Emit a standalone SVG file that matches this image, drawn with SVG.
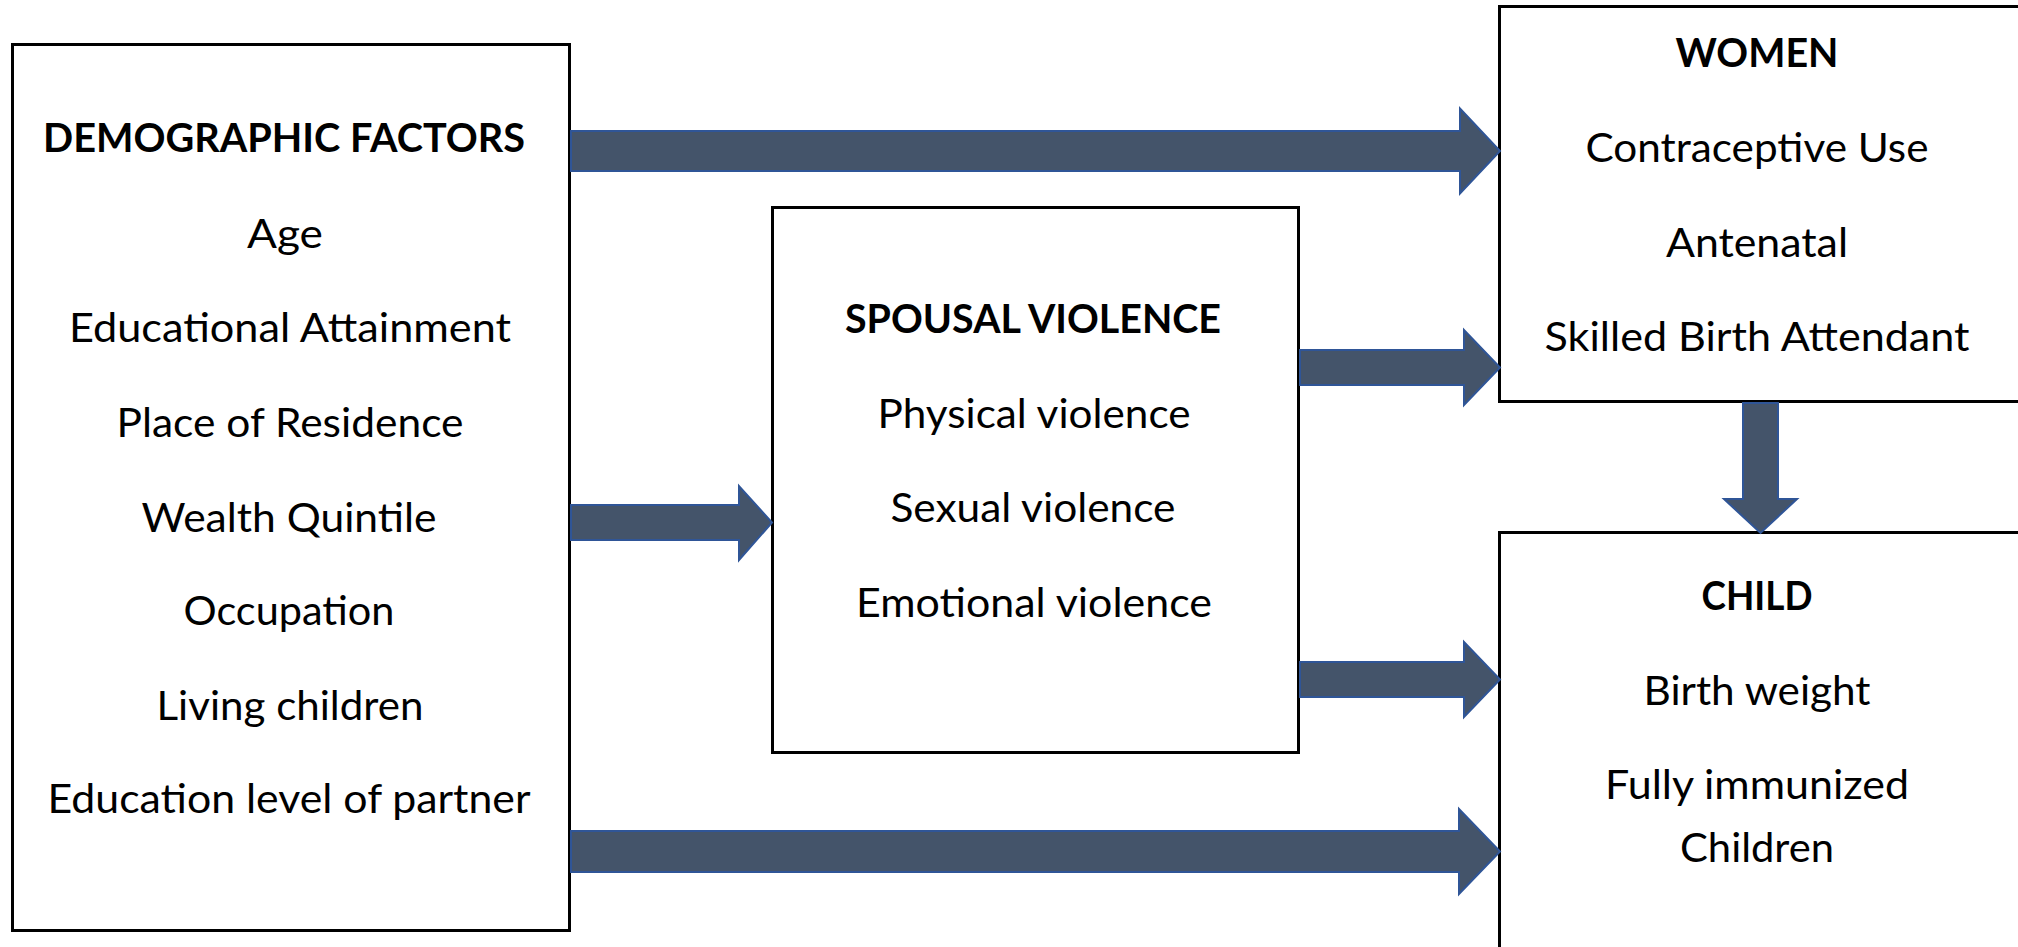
<svg xmlns="http://www.w3.org/2000/svg" width="2018" height="947" viewBox="0 0 2018 947">
<style>
.box{fill:#fff;stroke:#000;stroke-width:3}
.t{font-family:Lato,"Open Sans","Liberation Sans",sans-serif;font-size:41px;fill:#000;text-anchor:middle}
.b{font-weight:700}
.arr{fill:#44546A;stroke:#2F5597;stroke-width:2;stroke-linejoin:miter}
</style>
<rect width="2018" height="947" fill="#fff"/>
<g id="demographic">
<rect class="box" x="12.5" y="44.5" width="557" height="886"/>
<text class="t b" x="284" y="152" textLength="482" lengthAdjust="spacingAndGlyphs">DEMOGRAPHIC FACTORS</text>
<text class="t" x="285" y="248" textLength="76" lengthAdjust="spacingAndGlyphs">Age</text>
<text class="t" x="290" y="342" textLength="442" lengthAdjust="spacingAndGlyphs">Educational Attainment</text>
<text class="t" x="290" y="437" textLength="347" lengthAdjust="spacingAndGlyphs">Place of Residence</text>
<text class="t" x="289" y="532" textLength="295" lengthAdjust="spacingAndGlyphs">Wealth Quintile</text>
<text class="t" x="289" y="625" textLength="211" lengthAdjust="spacingAndGlyphs">Occupation</text>
<text class="t" x="290" y="720" textLength="267" lengthAdjust="spacingAndGlyphs">Living children</text>
<text class="t" x="289" y="813" textLength="483" lengthAdjust="spacingAndGlyphs">Education level of partner</text>
</g>
<g id="spousal">
<rect class="box" x="772.5" y="207.5" width="526" height="545"/>
<text class="t b" x="1033" y="333" textLength="376" lengthAdjust="spacingAndGlyphs">SPOUSAL VIOLENCE</text>
<text class="t" x="1034" y="428" textLength="313" lengthAdjust="spacingAndGlyphs">Physical violence</text>
<text class="t" x="1033" y="522" textLength="285" lengthAdjust="spacingAndGlyphs">Sexual violence</text>
<text class="t" x="1034" y="617" textLength="356" lengthAdjust="spacingAndGlyphs">Emotional violence</text>
</g>
<g id="women">
<rect class="box" x="1499.5" y="6.5" width="530" height="395"/>
<text class="t b" x="1757" y="67" textLength="163" lengthAdjust="spacingAndGlyphs">WOMEN</text>
<text class="t" x="1757" y="162" textLength="343" lengthAdjust="spacingAndGlyphs">Contraceptive Use</text>
<text class="t" x="1757" y="257" textLength="182" lengthAdjust="spacingAndGlyphs">Antenatal</text>
<text class="t" x="1757" y="351" textLength="425" lengthAdjust="spacingAndGlyphs">Skilled Birth Attendant</text>
</g>
<g id="child">
<rect class="box" x="1499.5" y="532.5" width="530" height="430"/>
<text class="t b" x="1757" y="610" textLength="111" lengthAdjust="spacingAndGlyphs">CHILD</text>
<text class="t" x="1757" y="705" textLength="227" lengthAdjust="spacingAndGlyphs">Birth weight</text>
<text class="t" x="1757" y="799" textLength="304" lengthAdjust="spacingAndGlyphs">Fully immunized</text>
<text class="t" x="1757" y="862" textLength="154" lengthAdjust="spacingAndGlyphs">Children</text>
</g>
<g id="connectors">
<polygon class="arr" points="571,131 1460,131 1460,108.5 1500,151 1460,193.5 1460,171 571,171"/>
<polygon class="arr" points="1300,350 1464,350 1464,330 1500,367.5 1464,405 1464,385 1300,385"/>
<polygon class="arr" points="571,505 739,505 739,486 772,522.5 739,560 739,540 571,540"/>
<polygon class="arr" points="1300,662 1464,662 1464,642 1500,679.5 1464,717 1464,697 1300,697"/>
<polygon class="arr" points="571,831 1459,831 1459,809 1500,851.5 1459,894 1459,872 571,872"/>
<polygon class="arr" points="1743,403 1778,403 1778,499 1797,499 1760.5,533 1724,499 1743,499"/>
</g>
</svg>
